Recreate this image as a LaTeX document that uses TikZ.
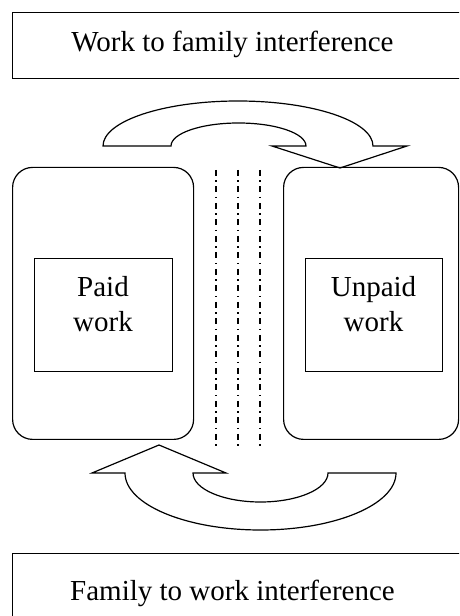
\documentclass[tikz,border=0pt]{standalone}
\usepackage{fontspec}
\setmainfont{Liberation Serif}
\begin{document}
\begin{tikzpicture}[x=1pt,y=1pt,line width=1.2pt,
  banner/.style={draw, anchor=north west, minimum width=470pt, minimum height=66pt, inner sep=0pt},
  panel/.style={draw, rounded corners=20pt, anchor=south west, minimum height=272pt, inner sep=0pt},
  inbox/.style={draw, anchor=south west, minimum height=113pt, inner sep=0pt},
  label/.style={font=\fontsize{29}{35}\selectfont, inner sep=0pt, anchor=base},
  divider/.style={line width=1.3pt, dash pattern=on 6pt off 4.5pt on 1.5pt off 4.5pt},
  bigarrow/.style={draw, line join=miter}]
\useasboundingbox (0,0) rectangle (459,616);
\clip (0,0) rectangle (459,616);

% header and footer banners
\node[banner] (wfibox) at (12,604) {};
\node[label] (wfi) at (232.5,564) {Work to family interference};
\node[banner] (fwibox) at (12,63) {};
\node[label] (fwi) at (232.5,16) {Family to work interference};

% the two domains
\node[panel, minimum width=181pt] (paidpanel) at (12,176) {};
\node[panel, minimum width=175pt] (unpaidpanel) at (283,176) {};
\node[inbox, minimum width=138pt] (paidbox) at (34,244) {};
\node[inbox, minimum width=137pt] (unpaidbox) at (305,244) {};
\node[label] (paid1) at (103,319) {Paid};
\node[label] (paid2) at (103,284) {work};
\node[label] (unpaid1) at (373.5,319) {Unpaid};
\node[label] (unpaid2) at (373.5,284) {work};

% boundary between the domains
\foreach \i/\xx in {1/216, 2/238, 3/260} {
  \coordinate (bt\i) at (\xx,446);
  \coordinate (bb\i) at (\xx,168);
  \draw[divider] (bt\i) -- (bb\i);
}

% curved arrow: work into family
\draw[bigarrow] (103,470) arc[start angle=180, end angle=0, x radius=135, y radius=45]
  -- (407,470) -- (340,448) -- (272,470) -- (306,470)
  arc[start angle=0, end angle=180, x radius=67.5, y radius=23] -- cycle;

% curved arrow: family into work
\draw[bigarrow] (396,143) arc[start angle=0, end angle=-180, x radius=135.5, y radius=57]
  -- (92,143) -- (159,171) -- (226,143) -- (193,143)
  arc[start angle=180, end angle=360, x radius=67.5, y radius=29] -- cycle;
\end{tikzpicture}
\end{document}
